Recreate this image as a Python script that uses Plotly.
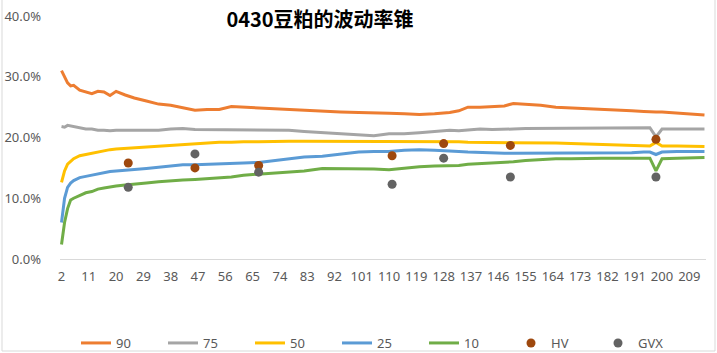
import numpy as np
import plotly.graph_objects as go

days = [2, 3, 4, 5, 6, 8, 10, 12, 14, 16, 18, 20, 23, 26, 30, 34, 38, 42, 46, 50,
        54, 58, 62, 67, 72, 77, 82, 88, 94, 100, 105, 110, 115, 120, 125, 130, 133,
        136, 140, 144, 148, 151, 155, 160, 165, 170, 175, 180, 185, 190, 194, 196,
        198, 200, 205, 210, 214]

p90 = [31.0, 30.0, 29.0, 28.5, 28.6, 27.8, 27.5, 27.2, 27.6, 27.5, 26.9, 27.6, 27.0,
       26.5, 26.0, 25.5, 25.3, 24.9, 24.5, 24.6, 24.6, 25.1, 25.0, 24.8, 24.7, 24.6,
       24.4, 24.3, 24.2, 24.1, 24.1, 24.0, 23.9, 23.8, 23.9, 24.1, 24.4, 25.0, 25.0,
       25.1, 25.2, 25.6, 25.5, 25.3, 25.0, 24.9, 24.8, 24.6, 24.5, 24.4, 24.3, 24.2,
       24.2, 24.2, 24.0, 23.9, 23.7]
p75 = [21.8, 21.7, 22.0, 21.9, 21.7, 21.6, 21.4, 21.4, 21.2, 21.2, 21.1, 21.2, 21.2,
       21.2, 21.1, 21.2, 21.4, 21.5, 21.3, 21.3, 21.3, 21.3, 21.3, 21.2, 21.2, 21.2,
       21.0, 20.8, 20.6, 20.4, 20.3, 20.6, 20.6, 20.8, 21.0, 21.2, 21.1, 21.2, 21.4,
       21.3, 21.3, 21.4, 21.5, 21.5, 21.5, 21.6, 21.6, 21.6, 21.6, 21.6, 21.6, 21.6,
       20.1, 21.4, 21.4, 21.4, 21.4]
p50 = [12.6, 14.5, 15.6, 16.0, 16.5, 17.0, 17.2, 17.5, 17.7, 17.9, 18.0, 18.1, 18.2,
       18.3, 18.5, 18.6, 18.7, 18.8, 19.0, 19.1, 19.2, 19.2, 19.3, 19.3, 19.4, 19.4,
       19.4, 19.4, 19.4, 19.4, 19.4, 19.3, 19.3, 19.3, 19.3, 19.3, 19.3, 19.2, 19.2,
       19.2, 19.2, 19.1, 19.1, 19.1, 19.1, 19.0, 18.9, 18.8, 18.8, 18.7, 18.6, 18.6,
       19.2, 18.6, 18.6, 18.5, 18.5]
p25 = [6.0, 10.0, 11.8, 12.5, 12.9, 13.4, 13.6, 13.8, 14.0, 14.3, 14.4, 14.5, 14.6,
       14.8, 14.9, 15.1, 15.3, 15.5, 15.5, 15.6, 15.6, 15.7, 15.8, 15.9, 16.2, 16.6,
       16.8, 16.9, 17.2, 17.6, 17.7, 17.7, 17.9, 18.0, 17.9, 17.7, 17.7, 17.6, 17.5,
       17.4, 17.4, 17.4, 17.4, 17.5, 17.5, 17.5, 17.4, 17.4, 17.5, 17.5, 17.6, 17.6,
       17.2, 17.6, 17.7, 17.7, 17.7]
p10 = [2.4, 6.0, 8.3, 9.7, 10.0, 10.5, 10.9, 11.1, 11.5, 11.7, 11.9, 12.0, 12.2,
       12.3, 12.5, 12.7, 12.9, 13.0, 13.1, 13.2, 13.3, 13.5, 13.8, 14.0, 14.2, 14.4,
       14.5, 14.9, 14.9, 14.9, 14.8, 14.7, 15.0, 15.2, 15.3, 15.3, 15.4, 15.6, 15.7,
       15.8, 15.9, 16.0, 16.2, 16.4, 16.5, 16.5, 16.6, 16.6, 16.6, 16.6, 16.6, 16.6,
       14.5, 16.5, 16.6, 16.7, 16.7]

pt_days = [24, 46, 67, 111, 128, 150, 198]
hv = [15.8, 15.0, 15.4, 17.0, 19.0, 18.7, 19.7]
gvx = [11.8, 17.3, 14.3, 12.3, 16.6, 13.5, 13.5]

tick_vals = list(range(2, 210, 9))
title_text = "0430豆粕的波动率锥"

line_series = [("90", p90, "#ED7D31"), ("75", p75, "#A5A5A5"), ("50", p50, "#FFC000"),
               ("25", p25, "#5B9BD5"), ("10", p10, "#70AD47")]
pt_series = [("HV", hv, "#9E480E"), ("GVX", gvx, "#636363")]

FONT = "Noto Sans, Open Sans, sans-serif"
fig = go.Figure()
for name, vals, col in line_series:
    fig.add_trace(go.Scatter(x=days, y=np.array(vals) / 100, name=name, mode="lines",
                             line=dict(color=col, width=3)))
for name, vals, col in pt_series:
    fig.add_trace(go.Scatter(x=pt_days, y=np.array(vals) / 100, name=name, mode="markers",
                             marker=dict(color=col, size=9)))

W, H = 717, 353
ml, mr, mt, mb = 60, 11, 16, 94
pw, ph = W - ml - mr, H - mt - mb

def px(x):
    return (x - ml) / pw

def py(y):
    return (H - mb - y) / ph

fig.update_layout(
    width=W, height=H,
    margin=dict(l=ml, r=mr, t=mt, b=mb, autoexpand=False),
    paper_bgcolor="white", plot_bgcolor="white",
    font=dict(family=FONT, size=13, color="#595959"),
    title=dict(text="<b>" + title_text + "</b>", x=320 / W, y=1 - 20 / H,
               xanchor="center", yanchor="middle", xref="container", yref="container",
               font=dict(family="Noto Sans CJK SC", size=20, color="black")),
    showlegend=True,
    legend=dict(orientation="h", x=px(76), y=py(343), xanchor="left", yanchor="middle",
                entrywidth=42, entrywidthmode="pixels", itemwidth=30,
                font=dict(size=13, color="#595959"), bgcolor="rgba(0,0,0,0)"),
    xaxis=dict(range=[1.5, 214.5], tickmode="array", tickvals=tick_vals,
               showgrid=False, zeroline=False, showline=True, linecolor="#D9D9D9",
               linewidth=1, ticks="", ticklabelstandoff=5,
               tickfont=dict(size=13, color="#595959")),
    yaxis=dict(range=[0, 0.4], dtick=0.1, tickformat=".1%", showgrid=False,
               zeroline=False, showline=False, ticks="", ticklabelstandoff=18,
               tickfont=dict(size=13, color="#595959")),
    shapes=[dict(type="rect", xref="paper", yref="paper", x0=px(2), x1=px(715),
                 y0=py(351), y1=py(-2), line=dict(color="#D9D9D9", width=1),
                 fillcolor="rgba(0,0,0,0)", layer="below")],
)

fig.write_html("out.html")
